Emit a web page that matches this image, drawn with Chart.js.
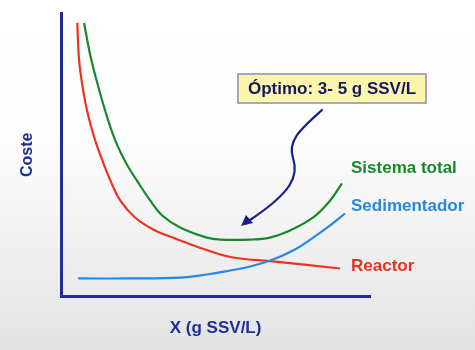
<!DOCTYPE html>
<html>
<head>
<meta charset="utf-8">
<script src="https://cdn.jsdelivr.net/npm/chart.js@4"></script>
<style>
    html, body {
        margin: 0;
        padding: 0;
    }
    body {
        width: 475px;
        height: 350px;
        background: linear-gradient(#ffffff 0%, #fdfdfd 40%, #e3e3e3 100%);
    }
    #wrap {
        width: 475px;
        height: 350px;
    }
</style>
</head>
<body>
<div id="wrap"><canvas id="cost-chart"></canvas></div>
<script>
// curves (x and y in arbitrary units 0-10)
const reactorX = [0.52, 0.58, 0.71, 0.87, 1.10, 1.33, 1.59, 1.91, 2.39, 3.04, 3.69, 4.66, 5.57, 6.86, 9.03];
const reactorY = [9.65, 8.34, 7.28, 6.40, 5.51, 4.81, 4.10, 3.39, 2.79, 2.33, 2.05, 1.66, 1.38, 1.24, 0.99];

const totalX = [0.74, 0.94, 1.17, 1.42, 1.75, 2.14, 2.49, 2.88, 3.27, 3.85, 4.72, 5.15, 6.12, 6.76, 7.41, 8.16, 8.71, 9.09];
const totalY = [9.65, 8.52, 7.53, 6.57, 5.51, 4.63, 4.03, 3.39, 2.86, 2.44, 2.08, 2.01, 2.01, 2.08, 2.33, 2.79, 3.39, 3.99];

const sedX = [0.55, 2.23, 3.85, 4.72, 5.47, 6.12, 6.86, 7.57, 8.16, 8.71, 9.19];
const sedY = [0.64, 0.64, 0.67, 0.78, 0.92, 1.06, 1.31, 1.66, 2.08, 2.51, 2.93];

const seriesNames = ["Sistema total", "Sedimentador", "Reactor"];
const optimumText = "Óptimo: 3- 5 g SSV/L";

const NAVY = "#1f2f96";
const GREEN = "#17892a";
const BLUE = "#2689e0";
const RED = "#ee3220";

function toPoints(xs, ys) {
    return xs.map((x, i) => ({ x: x, y: ys[i] }));
}

const annotations = {
    id: "annotations",
    afterDraw(chart) {
        const ctx = chart.ctx;
        ctx.save();

        // curve labels
        ctx.font = "bold 17px 'Liberation Sans', Arial, sans-serif";
        ctx.textBaseline = "middle";
        ctx.textAlign = "left";
        ctx.fillStyle = GREEN;
        ctx.fillText(seriesNames[0], 351, 168);
        ctx.fillStyle = BLUE;
        ctx.fillText(seriesNames[1], 351, 206);
        ctx.fillStyle = RED;
        ctx.fillText(seriesNames[2], 351, 266);

        // optimum box
        ctx.fillStyle = "#fcf5ac";
        ctx.fillRect(238, 74, 188, 29);
        ctx.strokeStyle = "#8c8cb4";
        ctx.lineWidth = 1.5;
        ctx.strokeRect(238, 74, 188, 29);
        ctx.font = "bold 17px 'Liberation Sans', Arial, sans-serif";
        ctx.fillStyle = "#16185e";
        ctx.textAlign = "center";
        ctx.fillText(optimumText, 332, 89);

        // curved arrow
        ctx.strokeStyle = "#1a1f86";
        ctx.lineWidth = 2.2;
        ctx.lineCap = "round";
        ctx.beginPath();
        ctx.moveTo(322, 110);
        ctx.bezierCurveTo(302, 128, 287, 140, 293, 158);
        ctx.bezierCurveTo(299, 176, 292, 192, 250, 220);
        ctx.stroke();

        ctx.fillStyle = "#1a1f86";
        ctx.beginPath();
        ctx.moveTo(241, 226);
        ctx.lineTo(246, 215);
        ctx.lineTo(253, 223);
        ctx.closePath();
        ctx.fill();

        ctx.restore();
    }
};

const ctx = document.getElementById("cost-chart").getContext("2d");
new Chart(ctx, {
    type: "line",
    data: {
        datasets: [
            {
                label: seriesNames[0],
                data: toPoints(totalX, totalY),
                borderColor: GREEN,
                borderWidth: 2.2
            },
            {
                label: seriesNames[1],
                data: toPoints(sedX, sedY),
                borderColor: BLUE,
                borderWidth: 2.2
            },
            {
                label: seriesNames[2],
                data: toPoints(reactorX, reactorY),
                borderColor: RED,
                borderWidth: 2.2
            }
        ]
    },
    options: {
        responsive: true,
        maintainAspectRatio: false,
        animation: false,
        elements: {
            point: { radius: 0 },
            line: { tension: 0.4, fill: false }
        },
        layout: {
            padding: { left: 18, right: 105, top: 13, bottom: 0 }
        },
        plugins: {
            legend: { display: false },
            tooltip: { enabled: false }
        },
        scales: {
            x: {
                type: "linear",
                min: 0,
                max: 10,
                grid: { display: false },
                border: { display: true, color: NAVY, width: 3 },
                ticks: { display: false },
                title: {
                    display: true,
                    text: "X (g SSV/L)",
                    color: NAVY,
                    font: { family: "'Liberation Sans', Arial, sans-serif", size: 17, weight: "bold" },
                    padding: { top: 14, bottom: 11 }
                }
            },
            y: {
                min: 0,
                max: 10,
                grid: { display: false },
                border: { display: true, color: NAVY, width: 3 },
                ticks: { display: false },
                title: {
                    display: true,
                    text: "Coste",
                    color: NAVY,
                    font: { family: "'Liberation Sans', Arial, sans-serif", size: 16, weight: "bold" },
                    padding: { top: 0, bottom: 16 }
                }
            }
        }
    },
    plugins: [annotations]
});
</script>
</body>
</html>
